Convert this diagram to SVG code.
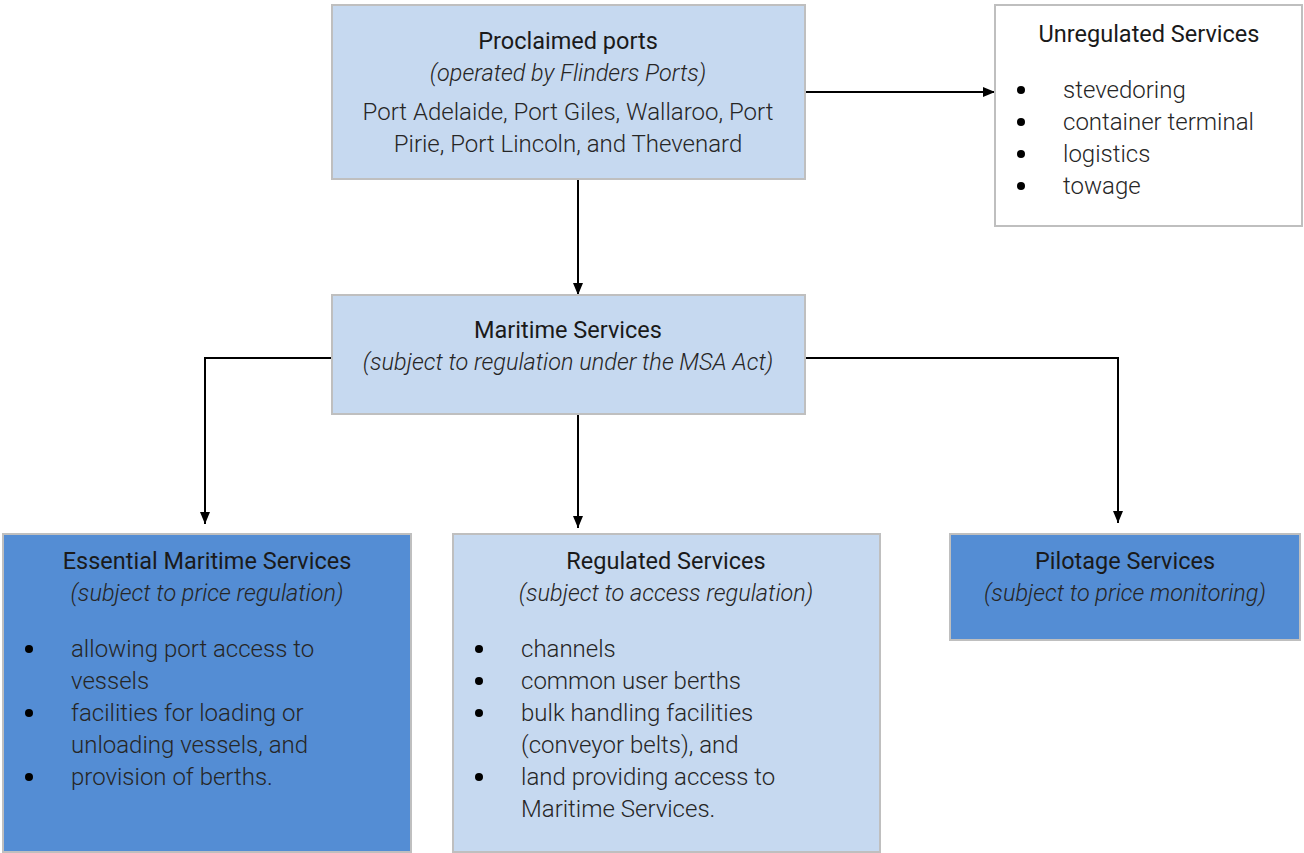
<svg xmlns="http://www.w3.org/2000/svg" width="1304" height="853" viewBox="0 0 1304 853">
<style>
.box{stroke:#bfbfbf;stroke-width:2}
.light{fill:#c6d9f0}
.dark{fill:#548dd4}
.white{fill:#ffffff}
text{font-family:Roboto,"Liberation Sans",sans-serif;font-size:23.5px;fill:#1a1a1a}
.t{font-weight:400;text-anchor:middle}
.i{font-family:"Roboto Light",Roboto,"Liberation Sans",sans-serif;font-weight:300;font-style:italic;text-anchor:middle;fill:#262626}
.b{font-family:"Roboto Light",Roboto,"Liberation Sans",sans-serif;font-weight:300;font-size:24px;fill:#262626}
.m{font-family:"Roboto Light",Roboto,"Liberation Sans",sans-serif;font-weight:300;font-size:24px;text-anchor:middle;fill:#262626}
.c{fill:none;stroke:#000;stroke-width:2}
</style>
<defs>
<marker id="ah" viewBox="0 0 12 12" refX="12" refY="6" markerWidth="12" markerHeight="12" markerUnits="userSpaceOnUse" orient="auto">
<path d="M0,1 L12,6 L0,11 Z" fill="#000"/>
</marker>
</defs>
<rect width="1304" height="853" fill="#fff"/>
<g id="connectors">
<line class="c" x1="805" y1="92" x2="995" y2="92" marker-end="url(#ah)"/>
<line class="c" x1="578" y1="179" x2="578" y2="295" marker-end="url(#ah)"/>
<polyline class="c" points="332,358 205,358 205,524" marker-end="url(#ah)"/>
<line class="c" x1="578" y1="414" x2="578" y2="528" marker-end="url(#ah)"/>
<polyline class="c" points="805,358 1118,358 1118,523" marker-end="url(#ah)"/>
</g>
<g id="proclaimed">
<rect class="box light" x="332" y="5" width="473" height="174"/>
<text class="t" x="568" y="49">Proclaimed ports</text>
<text class="i" x="568" y="81">(operated by Flinders Ports)</text>
<text class="m" x="568" y="120">Port Adelaide, Port Giles, Wallaroo, Port</text>
<text class="m" x="568" y="152">Pirie, Port Lincoln, and Thevenard</text>
</g>
<g id="unregulated">
<rect class="box white" x="995" y="5" width="307" height="221"/>
<text class="t" x="1149" y="42">Unregulated Services</text>
<g fill="#000"><circle cx="1021" cy="90" r="4"/><circle cx="1021" cy="122" r="4"/><circle cx="1021" cy="154" r="4"/><circle cx="1021" cy="186" r="4"/></g>
<text class="b" x="1063" y="98">stevedoring</text>
<text class="b" x="1063" y="130">container terminal</text>
<text class="b" x="1063" y="162">logistics</text>
<text class="b" x="1063" y="194">towage</text>
</g>
<g id="maritime">
<rect class="box light" x="332" y="295" width="473" height="119"/>
<text class="t" x="568" y="338">Maritime Services</text>
<text class="i" x="568" y="370">(subject to regulation under the MSA Act)</text>
</g>
<g id="essential">
<rect class="box dark" x="3" y="534" width="408" height="318"/>
<text class="t" x="207" y="569">Essential Maritime Services</text>
<text class="i" x="207" y="601">(subject to price regulation)</text>
<g fill="#000"><circle cx="29" cy="649" r="4"/><circle cx="29" cy="713" r="4"/><circle cx="29" cy="777" r="4"/></g>
<text class="b" x="71" y="657">allowing port access to</text>
<text class="b" x="71" y="689">vessels</text>
<text class="b" x="71" y="721">facilities for loading or</text>
<text class="b" x="71" y="753">unloading vessels, and</text>
<text class="b" x="71" y="785">provision of berths.</text>
</g>
<g id="regulated">
<rect class="box light" x="453" y="534" width="427" height="318"/>
<text class="t" x="666" y="569">Regulated Services</text>
<text class="i" x="666" y="601">(subject to access regulation)</text>
<g fill="#000"><circle cx="479" cy="649" r="4"/><circle cx="479" cy="681" r="4"/><circle cx="479" cy="713" r="4"/><circle cx="479" cy="777" r="4"/></g>
<text class="b" x="521" y="657">channels</text>
<text class="b" x="521" y="689">common user berths</text>
<text class="b" x="521" y="721">bulk handling facilities</text>
<text class="b" x="521" y="753">(conveyor belts), and</text>
<text class="b" x="521" y="785">land providing access to</text>
<text class="b" x="521" y="817">Maritime Services.</text>
</g>
<g id="pilotage">
<rect class="box dark" x="950" y="534" width="350" height="106"/>
<text class="t" x="1125" y="569">Pilotage Services</text>
<text class="i" x="1125" y="601">(subject to price monitoring)</text>
</g>
</svg>
